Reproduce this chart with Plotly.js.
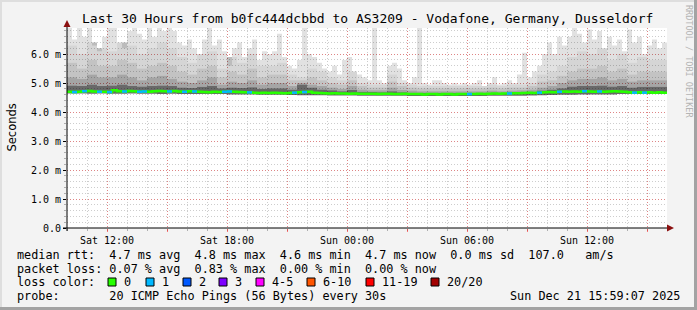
<!DOCTYPE html>
<html><head><meta charset="utf-8">
<script src="https://cdn.plot.ly/plotly-3.0.1.min.js"></script>
<style>html,body{margin:0;padding:0;background:#f3f3f3;overflow:hidden}#chart{width:697px;height:310px}</style>
</head><body><div id="chart"></div>
<script>
// ---------------- data ----------------
const startTime = Date.UTC(2025, 11, 20, 10, 0, 0);   // Sat 10:00
const endTime   = Date.UTC(2025, 11, 21, 16, 0, 0);   // Sun 16:00
const fineStepMin = 15;     // resolution of max + median series
const coarseStepMin = 30;   // resolution of inner smoke bands

// highest ping per step (ms)
const rttMax = [
 6.9,6.5,6.9,6.6,6.9,6.3,6.1,6.6,6.9,6.9,6.4,6.2,6.8,6.9,6.7,6.5,6.9,6.6,6.9,6.8,
 6.9,6.8,6.4,6.3,6.5,6.2,6.0,6.5,6.9,6.3,6.5,6.1,5.6,6.2,6.4,5.9,6.2,6.5,5.8,6.1,
 6.0,6.1,6.7,5.9,5.6,5.5,5.8,6.9,6.0,5.9,5.7,5.5,5.4,5.6,5.3,5.8,5.9,5.4,5.3,5.2,
 5.1,6.9,5.1,5.0,5.6,5.7,5.5,5.1,5.0,5.2,6.9,5.0,4.95,5.1,5.1,5.0,4.95,5.0,4.95,5.0,
 4.95,5.0,5.1,4.9,5.0,5.2,4.95,5.0,5.1,5.0,5.3,6.05,5.2,5.4,5.6,6.0,
 6.4,6.0,6.6,6.3,6.6,6.9,6.7,6.4,6.85,6.5,6.8,6.2,6.6,6.3,6.5,6.1,6.85,6.4,6.6,6.0,6.3,6.5,6.2,6.4
];
// upper smoke bands (ms), coarse steps
const rttP95 = [
 6.3,6.0,6.4,6.2,6.1,6.4,6.3,6.0,6.2,6.4,
 6.2,5.9,5.7,6.0,6.1,5.5,5.9,5.7,6.0,5.6,
 5.6,5.7,5.3,5.2,5.5,5.4,5.2,5.1,5.4,5.0,
 4.95,4.95,5.3,5.0,4.95,4.9,4.9,4.9,4.9,4.9,
 4.9,4.9,4.95,4.9,4.95,4.95,5.0,5.3,5.4,5.6,
 5.9,6.1,6.0,6.2,5.8,6.0,5.7,5.9,5.8,5.8
];
const rttP85 = [
 5.7,5.5,5.8,5.6,5.6,5.8,5.7,5.5,5.6,5.7,
 5.6,5.4,5.3,5.5,5.6,5.2,5.4,5.3,5.5,5.2,
 5.3,5.3,5.1,5.1,5.2,5.1,5.0,4.95,5.1,4.9,
 4.85,4.85,5.05,4.9,4.85,4.82,4.82,4.82,4.82,4.82,
 4.82,4.82,4.85,4.82,4.85,4.85,4.9,5.05,5.1,5.25,
 5.4,5.5,5.5,5.6,5.4,5.5,5.3,5.4,5.4,5.4
];
const rttP70 = [
 5.2,5.15,5.3,5.2,5.2,5.3,5.2,5.1,5.2,5.25,
 5.15,5.05,5.0,5.1,5.2,4.95,5.05,5.0,5.1,4.95,
 5.0,5.0,4.9,5.0,4.95,4.9,4.85,4.8,4.9,4.78,
 4.75,4.75,4.85,4.77,4.74,4.72,4.72,4.72,4.72,4.72,
 4.72,4.72,4.74,4.72,4.74,4.75,4.78,4.85,4.9,5.0,
 5.1,5.15,5.15,5.2,5.1,5.15,5.05,5.1,5.1,5.1
];
const rttP55 = [
 4.92,4.9,4.95,4.9,4.92,4.95,4.9,4.88,4.9,4.92,
 4.9,4.85,4.83,4.87,4.9,4.82,4.85,4.83,4.86,4.8,
 4.82,4.82,4.78,4.95,4.85,4.78,4.75,4.72,4.76,4.7,
 4.69,4.68,4.72,4.68,4.67,4.66,4.66,4.66,4.66,4.66,
 4.66,4.66,4.67,4.66,4.67,4.68,4.7,4.74,4.78,4.82,
 4.88,4.9,4.9,4.92,4.88,4.9,4.85,4.87,4.87,4.87
];
// lowest ping per coarse step (ms)
const rttMin = [
 4.64,4.64,4.63,4.64,4.63,4.63,4.64,4.63,4.63,4.62,
 4.63,4.62,4.62,4.62,4.62,4.62,4.61,4.61,4.61,4.60,
 4.60,4.60,4.59,4.58,4.58,4.58,4.57,4.57,4.57,4.56,
 4.56,4.56,4.56,4.56,4.55,4.55,4.55,4.55,4.55,4.55,
 4.55,4.55,4.56,4.56,4.56,4.56,4.57,4.58,4.59,4.60,
 4.60,4.61,4.61,4.61,4.61,4.62,4.62,4.62,4.62,4.62
];
// median rtt per fine step (ms)
const medianRtt = [
 4.70,4.69,4.70,4.72,4.73,4.71,4.70,4.70,4.69,4.75,4.72,4.71,4.73,4.72,4.70,4.71,4.70,4.72,4.73,4.72,
 4.71,4.73,4.71,4.70,4.72,4.71,4.70,4.69,4.68,4.70,4.69,4.70,4.71,4.70,4.69,4.68,4.68,4.67,4.66,4.67,
 4.66,4.67,4.66,4.65,4.66,4.67,4.68,4.69,4.70,4.67,4.66,4.65,4.64,4.65,4.64,4.64,4.63,4.64,4.63,4.63,
 4.63,4.63,4.62,4.63,4.63,4.62,4.62,4.63,4.62,4.62,4.62,4.61,4.62,4.62,4.61,4.62,4.62,4.61,4.62,4.62,
 4.62,4.62,4.63,4.62,4.63,4.64,4.63,4.64,4.64,4.65,4.65,4.66,4.67,4.66,4.67,4.68,4.69,4.68,4.70,4.71,
 4.70,4.71,4.70,4.72,4.71,4.70,4.71,4.70,4.71,4.72,4.71,4.70,4.68,4.67,4.68,4.67,4.68,4.67,4.68,4.67
];
// lost pings (of 20) per fine step
const lossCount = [
 0,1,0,1,0,0,1,0,1,0,0,1,0,0,1,1,0,0,0,0,
 1,0,0,1,0,1,0,0,0,0,0,1,1,0,0,0,1,0,0,0,
 0,0,0,0,0,1,0,1,0,0,0,0,0,0,0,0,0,0,0,0,
 0,0,0,0,0,0,0,0,0,0,0,0,0,0,0,0,0,0,0,0,
 1,0,0,0,0,0,0,0,1,0,0,0,0,0,1,0,0,0,1,0,
 0,0,0,1,0,0,1,0,0,0,0,0,0,1,0,1,0,0,0,0
];
const xTickVals = [
 Date.UTC(2025,11,20,12), Date.UTC(2025,11,20,15), Date.UTC(2025,11,20,18), Date.UTC(2025,11,20,21),
 Date.UTC(2025,11,21,0),  Date.UTC(2025,11,21,3),  Date.UTC(2025,11,21,6),  Date.UTC(2025,11,21,9),
 Date.UTC(2025,11,21,12), Date.UTC(2025,11,21,15)
];
const xTickText = ['Sat 12:00','','Sat 18:00','','Sun 00:00','','Sun 06:00','','Sun 12:00',''];
const yTickVals = [0,1,2,3,4,5,6];
const yTickText = ['0.0','1.0 m','2.0 m','3.0 m','4.0 m','5.0 m','6.0 m'];
const lossLabels = ['0','1','2','3','4-5','6-10','11-19','20/20'];
const lossColors = ['#26ff00','#00b8ff','#0059ff','#7e00ff','#ff00ff','#ff5500','#ff0000','#a10000'];
const lossUpper  = [0,1,2,3,5,10,19,20];
const titleText = 'Last 30 Hours from b0fc444dcbbd to AS3209 - Vodafone, Germany, Dusseldorf';
const legendRows = [
 'median rtt:  4.7 ms avg  4.8 ms max  4.6 ms min  4.7 ms now  0.0 ms sd  107.0   am/s',
 'packet loss: 0.07 % avg  0.83 % max  0.00 % min  0.00 % now',
 'loss color:',
 'probe:       20 ICMP Echo Pings (56 Bytes) every 30s'
];
const stampText = 'Sun Dec 21 15:59:07 2025';

// ---------------- build ----------------
const W = 697, H = 310, ML = 67, MR = 30, MT = 28, MB = 82;
const PW = W - ML - MR, PH = H - MT - MB;
const px = x => (x - ML) / PW;
const py = y => (H - MB - y) / PH;
const nbsp = s => s.replace(/ /g, '\u00a0');
const mono = 'DejaVu Sans Mono, monospace';

function stepSeries(vals, stepMin) {
  const x = [], y = [];
  vals.forEach((v, i) => { x.push(startTime + i * stepMin * 60000); y.push(v); });
  x.push(startTime + vals.length * stepMin * 60000); y.push(vals[vals.length - 1]);
  return {x, y};
}
// gray level -> translucent black so the grid shows through the smoke
const shade = g => `rgba(0,0,0,${(1 - g / 255).toFixed(3)})`;
const traces = [];
function band(lowVals, lowStep, highVals, highStep, gray) {
  const lo = stepSeries(lowVals, lowStep), hi = stepSeries(highVals, highStep);
  traces.push({type: 'scatter', mode: 'lines', x: lo.x, y: lo.y, line: {width: 0, shape: 'hv'}, hoverinfo: 'skip'});
  traces.push({type: 'scatter', mode: 'lines', x: hi.x, y: hi.y, fill: 'tonexty', fillcolor: shade(gray),
               line: {width: 0, shape: 'hv'}, hoverinfo: 'skip'});
}
band(rttMin, coarseStepMin, rttP55, coarseStepMin, 105);
band(rttP55, coarseStepMin, rttP70, coarseStepMin, 165);
band(rttP70, coarseStepMin, rttP85, coarseStepMin, 195);
band(rttP85, coarseStepMin, rttP95, coarseStepMin, 213);
band(rttP95, coarseStepMin, rttMax, fineStepMin, 225);

const med = stepSeries(medianRtt, fineStepMin);
traces.push({type: 'scatter', mode: 'lines', x: med.x, y: med.y,
             line: {width: 2.5, shape: 'hv', color: lossColors[0]}, hoverinfo: 'skip'});
const lossIdx = n => lossUpper.findIndex(u => n <= u);
for (let k = 1; k < lossColors.length; k++) {
  const x = [], y = [];
  lossCount.forEach((n, i) => {
    if (lossIdx(n) === k) {
      x.push(med.x[i], med.x[i + 1], null);
      y.push(medianRtt[i], medianRtt[i], null);
    }
  });
  if (x.length) traces.push({type: 'scatter', mode: 'lines', x, y,
      line: {width: 2.5, color: lossColors[k]}, hoverinfo: 'skip'});
}

const annotations = [
  {text: titleText, x: 0.5, xref: 'paper', xanchor: 'center', y: py(18.5), yref: 'paper', yanchor: 'middle',
   showarrow: false, font: {family: mono, size: 13, color: '#000'}},
  {text: 'Seconds', x: px(11), xref: 'paper', xanchor: 'center', y: py(127.5), yref: 'paper', yanchor: 'middle',
   textangle: -90, showarrow: false, font: {family: 'DejaVu Sans, sans-serif', size: 11.5, color: '#000'}},
  {text: nbsp('RRDTOOL / TOBI OETIKER'), x: px(689), xref: 'paper', xanchor: 'center', y: py(61), yref: 'paper',
   yanchor: 'middle', textangle: 90, showarrow: false, font: {family: mono, size: 8.5, color: '#b4b4b4'}},
  {text: nbsp(stampText), x: px(681), xref: 'paper', xanchor: 'right', y: py(296), yref: 'paper', yanchor: 'middle',
   showarrow: false, borderpad: 0, font: {family: mono, size: 11.8, color: '#000'}}
];
const rowY = [255, 268.5, 282, 296];
legendRows.forEach((t, i) => annotations.push({text: nbsp(t), x: px(15.5), xref: 'paper', xanchor: 'left',
  y: py(rowY[i]), yref: 'paper', yanchor: 'middle', showarrow: false, borderpad: 0,
  font: {family: mono, size: 11.8, color: '#000'}}));

const boxX = [108, 146, 183, 219, 256, 307, 366, 431];
const shapes = [];
lossLabels.forEach((lab, k) => {
  shapes.push({type: 'rect', xref: 'paper', yref: 'paper', x0: px(boxX[k]), x1: px(boxX[k] + 8),
    y0: py(286), y1: py(278), fillcolor: lossColors[k], line: {color: '#000', width: 1}});
  annotations.push({text: nbsp(lab), x: px(boxX[k] + 14.5), xref: 'paper', xanchor: 'left',
    y: py(282), yref: 'paper', yanchor: 'middle', showarrow: false, borderpad: 0,
    font: {family: mono, size: 11.8, color: '#000'}});
});
// axes lines and arrows
shapes.push({type: 'line', xref: 'paper', yref: 'paper', x0: px(63), x1: px(669), y0: py(228), y1: py(228), line: {color: '#000', width: 1}, layer: 'above'});
shapes.push({type: 'line', xref: 'paper', yref: 'paper', x0: px(67), x1: px(67), y0: py(231), y1: py(24), line: {color: '#000', width: 1}, layer: 'above'});
const P = (x, y) => `${px(x)},${py(y)}`;
shapes.push({type: 'path', xref: 'paper', yref: 'paper', path: `M${P(667,224.5)} L${P(674,228)} L${P(667,231.5)} Z`, fillcolor: '#8b1010', line: {width: 0}});
shapes.push({type: 'path', xref: 'paper', yref: 'paper', path: `M${P(63.5,27)} L${P(67,20)} L${P(70.5,27)} Z`, fillcolor: '#8b1010', line: {width: 0}});
// frame
shapes.push({type: 'rect', xref: 'paper', yref: 'paper', x0: px(694), x1: px(697), y0: py(310), y1: py(0), fillcolor: '#a3a3a3', line: {width: 0}});
shapes.push({type: 'rect', xref: 'paper', yref: 'paper', x0: px(0), x1: px(697), y0: py(310), y1: py(307), fillcolor: '#a3a3a3', line: {width: 0}});
shapes.push({type: 'rect', xref: 'paper', yref: 'paper', x0: px(0), x1: px(2), y0: py(307), y1: py(0), fillcolor: '#dedede', line: {width: 0}});
shapes.push({type: 'rect', xref: 'paper', yref: 'paper', x0: px(0), x1: px(694), y0: py(2), y1: py(0), fillcolor: '#dedede', line: {width: 0}});

const layout = {
  width: W, height: H, margin: {l: ML, r: MR, t: MT, b: MB, pad: 0},
  paper_bgcolor: '#f3f3f3', plot_bgcolor: '#ffffff', showlegend: false,
  xaxis: {type: 'date', range: [startTime, endTime], tickmode: 'array', tickvals: xTickVals, ticktext: xTickText,
    showgrid: true, gridcolor: 'rgba(255,0,0,0.35)', griddash: '1px,2px', gridwidth: 1,
    ticks: 'outside', ticklen: 3, tickcolor: 'rgba(255,0,0,0.5)', zeroline: false, showline: false,
    tickfont: {family: mono, size: 10, color: '#000'}, fixedrange: true,
    minor: {tickmode: 'linear', tick0: startTime, dtick: 3600000, showgrid: true, gridcolor: 'rgba(130,130,130,0.4)',
      griddash: '1px,2px', gridwidth: 1, ticks: 'outside', ticklen: 2, tickcolor: 'rgba(130,130,130,0.6)'}},
  yaxis: {range: [0, 6.9], tickmode: 'array', tickvals: yTickVals, ticktext: yTickText,
    showgrid: true, gridcolor: 'rgba(255,0,0,0.35)', griddash: '1px,2px', gridwidth: 1,
    ticks: 'outside', ticklen: 3, tickcolor: '#000', zeroline: false, showline: false,
    tickfont: {family: mono, size: 10, color: '#000'}, fixedrange: true,
    minor: {tickmode: 'linear', tick0: 0, dtick: 0.2, showgrid: true, gridcolor: 'rgba(130,130,130,0.4)',
      griddash: '1px,2px', gridwidth: 1, ticks: 'outside', ticklen: 2, tickcolor: 'rgba(130,130,130,0.6)'}},
  annotations, shapes
};
Plotly.newPlot('chart', traces, layout, {staticPlot: true, displayModeBar: false});
</script></body></html>
